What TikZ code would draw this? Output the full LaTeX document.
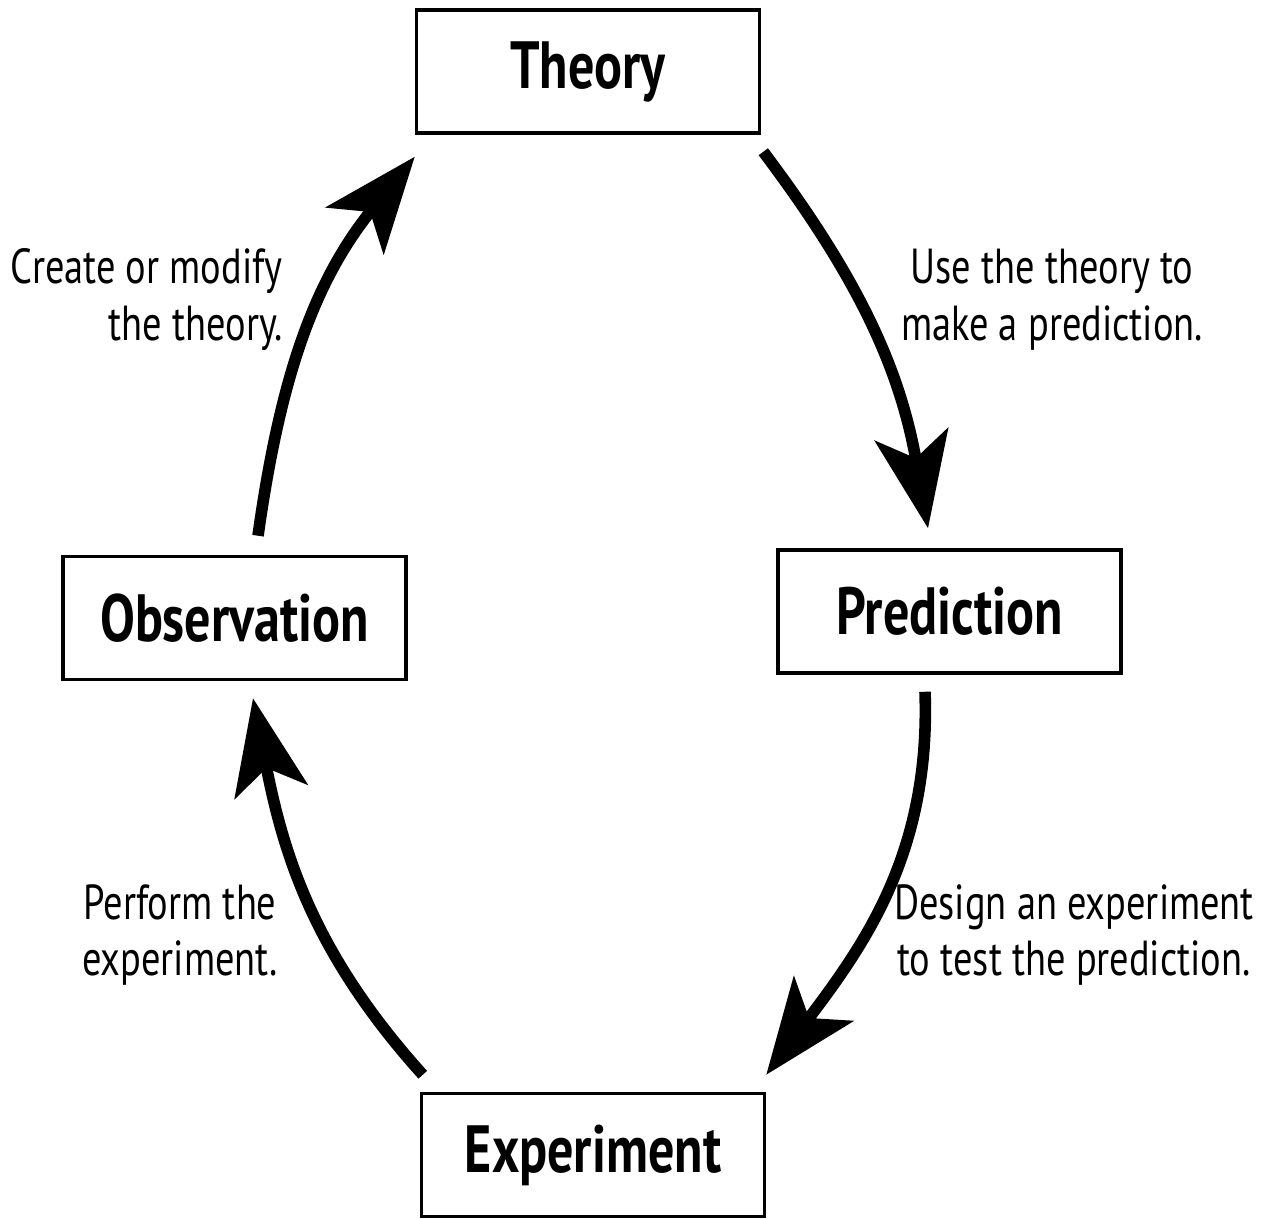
\documentclass[tikz,border=0pt]{standalone}
\usepackage{fontspec}
\setmainfont{PT Sans}[FakeStretch=0.78]
\usepackage{tikz}
\usetikzlibrary{arrows.meta}

\begin{document}
\begin{tikzpicture}[
    stage/.style={draw, line width=1pt, minimum width=3.43cm, minimum height=1.23cm,
        font=\fontsize{19}{22}\selectfont\bfseries},
    cyc/.style={line width=3.3pt, -{Stealth[length=0.95cm, width=0.74cm, inset=0.24cm]}},
    note/.style={font=\fontsize{14}{16.2}\selectfont}
]
    \useasboundingbox (0,0) rectangle (12.74,12.18);

    \node[stage] (theory) at (5.88,11.465) {Theory};
    \node[stage] (pred) at (9.495,6.065) {Prediction};
    \node[stage] (obs) at (2.345,6.00) {Observation};
    \node[stage] (exp) at (5.93,0.63) {Experiment};

    \draw[cyc] ([xshift=0.235cm,yshift=0.19cm]obs.north)
        to[out=82, in=231] ([yshift=-0.22cm]theory.south west);
    \draw[cyc] ([xshift=0.02cm,yshift=-0.17cm]theory.south east)
        to[out=-53, in=100] ([xshift=-0.215cm,yshift=0.2cm]pred.north);
    \draw[cyc] ([xshift=-0.245cm,yshift=-0.17cm]pred.south)
        to[out=-88, in=53] ([yshift=0.17cm]exp.north east);
    \draw[cyc] ([xshift=0.03cm,yshift=0.17cm]exp.north west)
        to[out=132, in=-79] ([xshift=0.185cm,yshift=-0.17cm]obs.south);

    \node[note, align=right, anchor=east] (create) at (2.95,9.18) {Create or modify\\the theory.};
    \node[note, align=center] (use) at (10.52,9.18) {Use the theory to\\make a prediction.};
    \node[note, align=center] (design) at (10.74,2.83) {Design an experiment\\to test the prediction.};
    \node[note, align=center] (perform) at (1.80,2.83) {Perform the\\experiment.};
\end{tikzpicture}
\end{document}
